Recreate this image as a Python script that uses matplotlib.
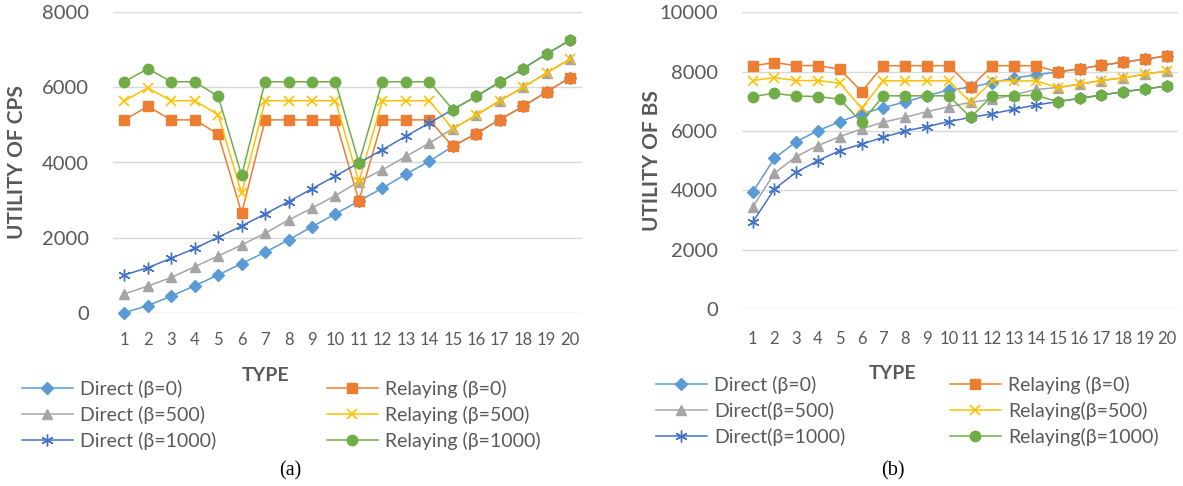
import matplotlib
matplotlib.use("Agg")
import matplotlib.pyplot as plt

plt.rcParams['font.family'] = ['Lato', 'DejaVu Sans']

types = list(range(1, 21))
type_labels = [str(t) for t in types]

# ---- (a) Utility of CPs ----
direct0_a = [0, 190, 440, 720, 1005, 1310, 1610, 1940, 2290, 2630, 2975, 3315, 3690, 4030, 4430, 4770, 5140, 5495, 5880, 6260]
direct500_a = [500, 710, 940, 1225, 1510, 1805, 2115, 2470, 2785, 3120, 3490, 3805, 4160, 4515, 4900, 5255, 5645, 6000, 6385, 6755]
direct1000_a = [1005, 1200, 1450, 1715, 2010, 2310, 2630, 2960, 3300, 3645, 3985, 4340, 4700, 5050, 5410, 5760, 6140, 6500, 6890, 7255]
relay0_a = [5135, 5495, 5135, 5135, 4755, 2650, 5135, 5135, 5135, 5135, 2980, 5135, 5135, 5135, 4430, 4770, 5140, 5495, 5880, 6260]
relay500_a = [5645, 5985, 5645, 5645, 5270, 3180, 5645, 5645, 5645, 5645, 3490, 5645, 5645, 5645, 4900, 5255, 5645, 6000, 6385, 6755]
relay1000_a = [6150, 6500, 6150, 6150, 5760, 3655, 6150, 6150, 6150, 6150, 3985, 6150, 6150, 6150, 5410, 5760, 6140, 6500, 6890, 7255]

# ---- (b) Utility of BS ----
direct0_b = [3935, 5080, 5640, 6010, 6315, 6575, 6790, 6980, 7190, 7380, 7480, 7625, 7790, 7890, 7990, 8095, 8215, 8320, 8420, 8530]
direct500_b = [3430, 4575, 5135, 5510, 5810, 6070, 6300, 6460, 6650, 6820, 6965, 7070, 7220, 7400, 7465, 7580, 7700, 7790, 7915, 8020]
direct1000_b = [2920, 4045, 4610, 5000, 5340, 5555, 5790, 6000, 6150, 6315, 6460, 6580, 6735, 6875, 6990, 7100, 7210, 7325, 7415, 7515]
relay0_b = [8195, 8305, 8205, 8205, 8080, 7330, 8200, 8200, 8200, 8200, 7480, 8200, 8200, 8200, 7990, 8095, 8215, 8320, 8420, 8530]
relay500_b = [7700, 7800, 7700, 7700, 7610, 6770, 7690, 7690, 7690, 7690, 6965, 7690, 7690, 7690, 7465, 7580, 7700, 7790, 7915, 8020]
relay1000_b = [7160, 7270, 7180, 7160, 7070, 6295, 7185, 7185, 7185, 7185, 6460, 7190, 7190, 7200, 6990, 7100, 7210, 7325, 7415, 7515]

labels_a = ["Direct (β=0)", "Relaying (β=0)", "Direct (β=500)", "Relaying (β=500)",
            "Direct (β=1000)", "Relaying (β=1000)"]
labels_b = ["Direct (β=0)", "Relaying (β=0)", "Direct(β=500)", "Relaying(β=500)",
            "Direct(β=1000)", "Relaying(β=1000)"]

colors = ['#5B9BD5', '#ED7D31', '#A5A5A5', '#FFC000', '#4472C4', '#70AD47']
markers = ['D', 's', '^', 'x', (6, 2, 0), 'o']
msizes = [6, 7.5, 7.5, 7.5, 8.5, 7.5]
mews = [1, 1, 1, 1.2, 1.0, 1]

W, H = 1183, 486
fig = plt.figure(figsize=(W / 100, H / 100), dpi=100)

def px_axes(l, t, r, b):
    return fig.add_axes([l / W, 1 - b / H, (r - l) / W, (b - t) / H])

ax_a = px_axes(112.7, 12.3, 581.7, 312.7)
ax_b = px_axes(741.7, 12.3, 1177.7, 309.0)

grey_txt = '#595959'

def style(ax, ymax, ylabel, xpad):
    ax.set_xlim(0.5, 20.5)
    ax.set_ylim(0, ymax)
    ax.set_yticks(range(0, ymax + 1, 2000))
    ax.set_xticks(types)
    ax.set_xticklabels(type_labels)
    for s in ax.spines.values():
        s.set_visible(False)
    ax.grid(axis='y', color='#D9D9D9', linewidth=1.0)
    ax.set_axisbelow(True)
    ax.tick_params(axis='y', length=0, pad=17, labelsize=14.5, labelcolor=grey_txt)
    ax.tick_params(axis='x', length=0, pad=xpad, labelsize=12, labelcolor=grey_txt)
    ax.set_ylabel(ylabel, fontsize=15, fontweight='bold', color=grey_txt)
    ax.set_xlabel('TYPE', fontsize=14, fontweight='bold', color=grey_txt)

series_a = [direct0_a, relay0_a, direct500_a, relay500_a, direct1000_a, relay1000_a]
series_b = [direct0_b, relay0_b, direct500_b, relay500_b, direct1000_b, relay1000_b]

def draw(ax, series, labels):
    handles = []
    for i, (vals, lab) in enumerate(zip(series, labels)):
        h, = ax.plot(types, vals, color=colors[i], linewidth=1.1, marker=markers[i],
                     markersize=msizes[i], markerfacecolor=colors[i],
                     markeredgecolor=colors[i], markeredgewidth=mews[i],
                     label=lab, clip_on=False, zorder=3 + i)
        handles.append(h)
    return handles

style(ax_a, 8000, 'UTILITY OF CPS', 14)
style(ax_b, 10000, 'UTILITY OF BS', 16)
ha = draw(ax_a, series_a, labels_a)
hb = draw(ax_b, series_b, labels_b)

ax_a.yaxis.set_label_coords(-0.183, 0.5)
ax_b.yaxis.set_label_coords(-0.183, 0.5)
ax_a.xaxis.set_label_coords(0.325, -0.181)
ax_b.xaxis.set_label_coords(0.345, -0.19)

def add_legend(hs, x, y):
    leg = fig.legend(handles=hs, loc='upper left', bbox_to_anchor=(x / W, 1 - y / H),
                     frameon=False, fontsize=14, handlelength=2.6, handletextpad=0.4,
                     labelspacing=0.4, borderpad=0, borderaxespad=0, labelcolor=grey_txt)
    return leg

add_legend([ha[0], ha[2], ha[4]], 22, 380)
add_legend([ha[1], ha[3], ha[5]], 327, 380)
add_legend([hb[0], hb[2], hb[4]], 656, 376)
add_legend([hb[1], hb[3], hb[5]], 950, 376)

fig.text(290 / W, 1 - 471 / H, '(a)', ha='center', va='center', fontsize=14.5,
         family=['Liberation Serif', 'DejaVu Serif'], color='black')
fig.text(893 / W, 1 - 471 / H, '(b)', ha='center', va='center', fontsize=14.5,
         family=['Liberation Serif', 'DejaVu Serif'], color='black')

fig.savefig('out.png', dpi=100)
